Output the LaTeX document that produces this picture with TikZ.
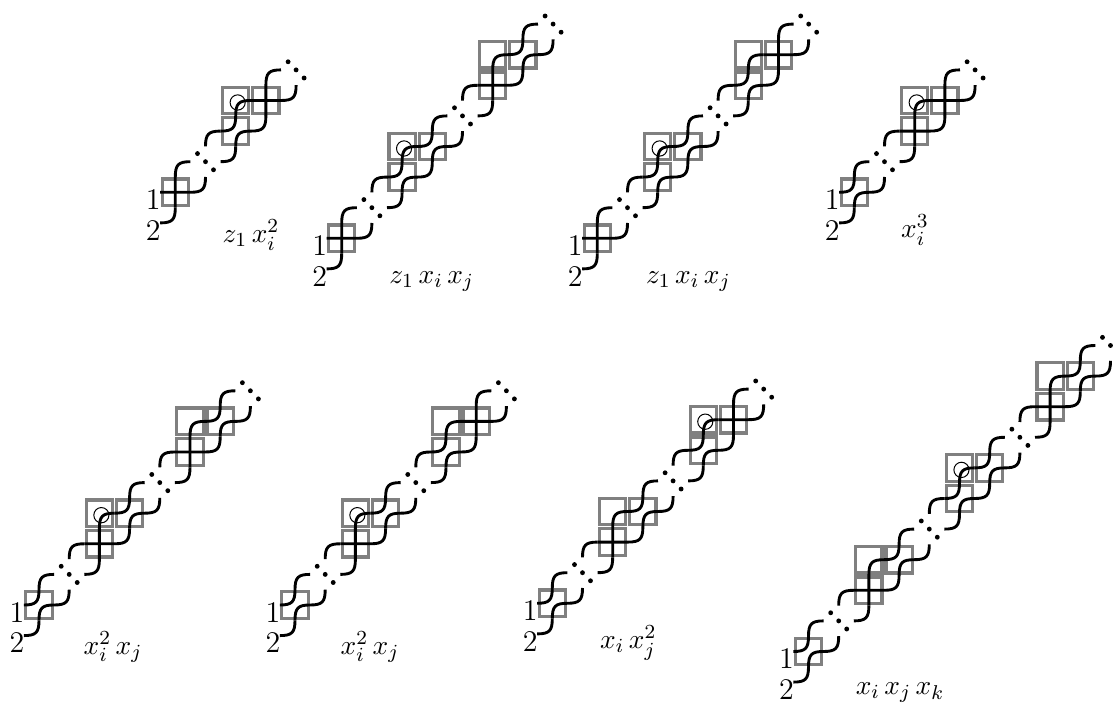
\documentclass[tikz,border=0pt]{standalone}
\usepackage{amsmath}
\usetikzlibrary{positioning}
\definecolor{cBox}{HTML}{808080}
\definecolor{cInk}{HTML}{000000}
\tikzset{
  cellpic/.style={transform shape},
  wire/.style={line width=1.15pt,color=cInk},
  en/.style={to path={.. controls +(0.8,0) and +(0,0.8) .. (\tikztotarget)}},
  ne/.style={to path={.. controls +(0,-0.8) and +(-0.8,0) .. (\tikztotarget)}},
  wall/.style={line width=1.3pt,color=cBox},
  num/.style={font=\large,color=cInk,inner sep=0pt},
  word/.style={font=\fontsize{10.95}{13}\selectfont,color=cInk,inner sep=0pt},
  pics/box/.style={code={\draw[wall] (-0.87,-0.87) rectangle (0.87,0.87);}},
  pics/ring/.style={code={\draw[line width=0.4pt,color=cInk] (0.13,0.13) circle [radius=0.5];}},
  pics/tail/.style={code={\draw[wire] (-1,2) to[en] (0,1);}},
  pics/entry/.style={code={\draw[wire] (-2,1) to[ne] (-1,0);
                           \draw[wire] (-1,2) to[en] (0,1);}},
  pics/xcell/.style={code={\draw[wire] (-1,0) -- (1,0) to[en] (2,-1);
                           \draw[wire] (0,1) -- (0,-1) to[ne] (1,-2);}},
  pics/ocell/.style={code={\draw[wire] (-1,0) to[en] (0,-1) to[ne] (1,-2);
                           \draw[wire] (0,1) to[ne] (1,0) to[en] (2,-1);}},
  pics/gap/.style={code={\fill[cInk] (-0.53,-0.53) circle [radius=0.16];
                         \fill[cInk] (0,0) circle [radius=0.16];
                         \fill[cInk] (0.53,0.53) circle [radius=0.16];}},
}
% first cell of a chain, with the dots after it
\newcommand{\chainstart}[1]{%
  \pic[cellpic] at (0,0) {box};
  \pic[cellpic] at (0,0) {tail};
  \pic[cellpic] at (0,0) {#1};
  \pic[cellpic] at (2,-2) {gap};}
% three cells of a staircase, with the dots after it
\newcommand{\stair}[3]{%
  \pic[cellpic] at (#1,-#1) {box};
  \pic[cellpic] at (#1,-#1-2) {box};
  \pic[cellpic] at (#1+2,-#1-2) {box};
  \pic[cellpic] at (#1,-#1) {entry};
  \pic[cellpic] at (#1,-#1) {#2};
  \pic[cellpic] at (#1+2,-#1-2) {#3};
  \pic[cellpic] at (#1+4,-#1-4) {gap};}

\begin{document}
\begin{tikzpicture}[x=0.4pt,y=-0.4pt]
\useasboundingbox (0,0) rectangle (1116,704);

% ====================================================== TOP ROW
% -- z1 xi^2
\begin{scope}[shift={(175.3,192.3)},xscale=15.1,yscale=15.3]
  \chainstart{xcell}
  \stair{4}{ocell}{xcell}
  \pic[cellpic] at (4,-6) {ring};
  \node[num] (oneA) at (-1.46,0.46) {1};
  \node[num] (twoA) at (-1.46,2.48) {2};
\end{scope}
\node[word] (termA) at (251,235) {$z_1\,x_i^2$};

% -- z1 xi xj
\begin{scope}[shift={(341.7,238.3)},xscale=15.1,yscale=15.3]
  \chainstart{xcell}
  \stair{4}{ocell}{ocell}
  \stair{10}{xcell}{ocell}
  \pic[cellpic] at (4,-6) {ring};
  \node[num] (oneB) at (-1.46,0.46) {1};
  \node[num] (twoB) at (-1.46,2.48) {2};
\end{scope}
\node[word] (termB) at (431.7,281.7) {$z_1\,x_i\,x_j$};

% -- z1 xi xj, second one
\begin{scope}[shift={(597.3,238.3)},xscale=15.1,yscale=15.3]
  \chainstart{xcell}
  \stair{4}{ocell}{ocell}
  \stair{10}{ocell}{xcell}
  \pic[cellpic] at (4,-6) {ring};
  \node[num] (oneC) at (-1.46,0.46) {1};
  \node[num] (twoC) at (-1.46,2.48) {2};
\end{scope}
\node[word] (termC) at (688.3,281.7) {$z_1\,x_i\,x_j$};

% -- xi^3
\begin{scope}[shift={(854.3,192.3)},xscale=15.1,yscale=15.3]
  \chainstart{ocell}
  \stair{4}{xcell}{xcell}
  \pic[cellpic] at (4,-6) {ring};
  \node[num] (oneD) at (-1.46,0.46) {1};
  \node[num] (twoD) at (-1.46,2.48) {2};
\end{scope}
\node[word] (termD) at (915,230) {$x_i^3$};

% ====================================================== BOTTOM ROW
% -- xi^2 xj
\begin{scope}[shift={(39,605)},xscale=15.1,yscale=15.3]
  \chainstart{ocell}
  \stair{4}{xcell}{ocell}
  \stair{10}{xcell}{ocell}
  \pic[cellpic] at (4,-6) {ring};
  \node[num] (oneE) at (-1.46,0.46) {1};
  \node[num] (twoE) at (-1.46,2.48) {2};
\end{scope}
\node[word] (termE) at (113,646.7) {$x_i^2\,x_j$};

% -- xi^2 xj, second one
\begin{scope}[shift={(295,605)},xscale=15.1,yscale=15.3]
  \chainstart{ocell}
  \stair{4}{xcell}{ocell}
  \stair{10}{ocell}{xcell}
  \pic[cellpic] at (4,-6) {ring};
  \node[num] (oneF) at (-1.46,0.46) {1};
  \node[num] (twoF) at (-1.46,2.48) {2};
\end{scope}
\node[word] (termF) at (370,646.7) {$x_i^2\,x_j$};

% -- xi xj^2
\begin{scope}[shift={(552.3,603.3)},xscale=15.1,yscale=15.3]
  \chainstart{ocell}
  \stair{4}{xcell}{ocell}
  \stair{10}{ocell}{xcell}
  \pic[cellpic] at (10,-12) {ring};
  \node[num] (oneG) at (-1.46,0.46) {1};
  \node[num] (twoG) at (-1.46,2.48) {2};
\end{scope}
\node[word] (termG) at (628.3,643) {$x_i\,x_j^2$};

% -- xi xj xk
\begin{scope}[shift={(808.5,651.5)},xscale=15.1,yscale=15.3]
  \chainstart{ocell}
  \stair{4}{xcell}{ocell}
  \stair{10}{ocell}{ocell}
  \stair{16}{xcell}{ocell}
  \pic[cellpic] at (10,-12) {ring};
  \node[num] (oneH) at (-1.46,0.46) {1};
  \node[num] (twoH) at (-1.46,2.48) {2};
\end{scope}
\node[word] (termH) at (900,693) {$x_i\,x_j\,x_k$};

\end{tikzpicture}
\end{document}
